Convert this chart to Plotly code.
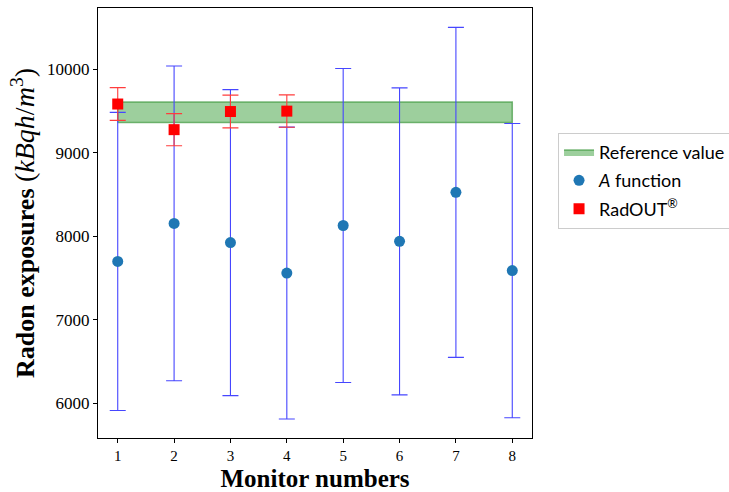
import plotly.graph_objects as go

monitors = [1, 2, 3, 4, 5, 6, 7, 8]
a_values = [7700, 8155, 7925, 7560, 8130, 7940, 8527, 7590]
a_errors = [1785, 1885, 1832, 1748, 1880, 1838, 1976, 1762]

radout_monitors = [1, 2, 3, 4]
radout_values = [9585, 9278, 9495, 9500]
radout_errors = [196, 192, 196, 194]

ref_low = 9365
ref_high = 9608

y_ticks = [6000, 7000, 8000, 9000, 10000]

serif = "Liberation Serif, DejaVu Serif, serif"
sans = "Lato, DejaVu Sans, sans-serif"

fig = go.Figure()

fig.add_trace(go.Scatter(
    x=[monitors[0], monitors[-1], monitors[-1], monitors[0], monitors[0]],
    y=[ref_low, ref_low, ref_high, ref_high, ref_low],
    mode="lines", fill="toself",
    fillcolor="rgba(60,160,60,0.5)",
    line=dict(color="rgba(40,140,40,0.6)", width=1.5),
    name="Reference value", hoverinfo="skip", legendgroup="g1",
))

fig.add_trace(go.Scatter(
    x=monitors, y=a_values, mode="markers",
    marker=dict(color="#1f77b4", size=11, symbol="circle"),
    error_y=dict(type="data", array=a_errors, visible=True,
                 color="rgb(70,70,255)", thickness=1.1, width=8),
    name="<i>A</i> function", legendgroup="g2",
))

fig.add_trace(go.Scatter(
    x=radout_monitors, y=radout_values, mode="markers",
    marker=dict(color="red", size=11, symbol="square"),
    error_y=dict(type="data", array=radout_errors, visible=True,
                 color="rgb(255,60,60)", thickness=1.1, width=8),
    name="RadOUT<sup>®</sup>", legendgroup="g3",
))

fig.update_layout(
    width=729, height=492,
    margin=dict(l=98, r=197, t=8, b=54, autoexpand=False),
    plot_bgcolor="white", paper_bgcolor="white",
    showlegend=True,
    legend=dict(
        x=1.06, y=0.71, xanchor="left", yanchor="top",
        bgcolor="white", bordercolor="#cccccc", borderwidth=1,
        font=dict(family=sans, size=18, color="black"),
        tracegroupgap=2,
    ),
)

fig.update_xaxes(
    range=[0.65, 8.35], tickmode="array", tickvals=monitors,
    ticktext=[str(m) for m in monitors],
    showgrid=False, zeroline=False,
    showline=True, linecolor="black", linewidth=1.2, mirror=True,
    ticks="outside", ticklen=4, tickcolor="black",
    tickfont=dict(family=serif, size=15, color="black"),
    title=dict(text="<b>Monitor numbers</b>", font=dict(family=serif, size=25, color="black"), standoff=7),
)

fig.update_yaxes(
    range=[5585, 10735], tickmode="array", tickvals=y_ticks,
    ticktext=[str(t) for t in y_ticks],
    showgrid=False, zeroline=False,
    showline=True, linecolor="black", linewidth=1.2, mirror=True,
    ticks="outside", ticklen=4, tickcolor="black",
    tickfont=dict(family=serif, size=17, color="black"),
    title=dict(text="<b>Radon exposures</b> <span style='font-size:28px'>(<i>kBqh</i>/<i>m</i><sup>3</sup>)</span>",
               font=dict(family=serif, size=26, color="black"), standoff=4),
)

fig.write_html("out.html")
